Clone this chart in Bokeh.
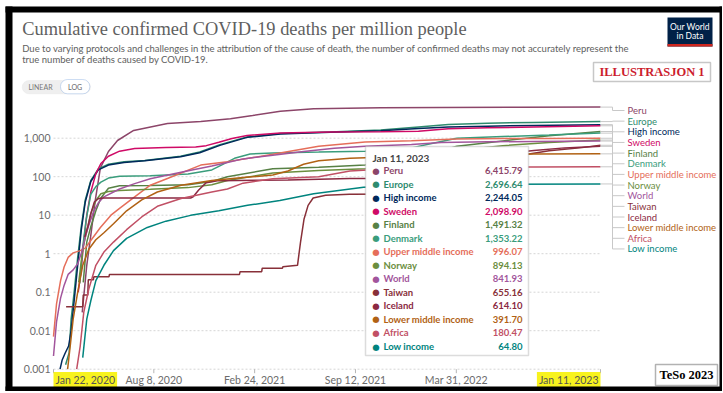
import math
import pandas as pd
from bokeh.plotting import figure
from bokeh.models import Range1d, Label, BoxAnnotation, Arrow, ColumnDataSource
from bokeh.embed import file_html
from bokeh.resources import INLINE

# ---------------- data ----------------
names = ["Peru", "Europe", "High income", "Sweden", "Finland", "Denmark",
         "Upper middle income", "Norway", "World", "Taiwan", "Iceland",
         "Lower middle income", "Africa", "Low income"]
colors = ["#8C4569", "#2E8B6E", "#00295B", "#CF0A66", "#578145", "#3A9D7C",
          "#E56E5A", "#6B8E3E", "#A2559C", "#883039", "#8B2942",
          "#B16214", "#C15065", "#00847E"]

x_tick_dates = ["2020-01-22", "2020-08-08", "2021-02-24", "2021-09-12", "2022-03-31", "2023-01-11"]
x_tick_labels = ["Jan 22, 2020", "Aug 8, 2020", "Feb 24, 2021", "Sep 12, 2021", "Mar 31, 2022", "Jan 11, 2023"]
y_ticks = [0.001, 0.01, 0.1, 1, 10, 100, 1000]
tooltip_date = "Jan 11, 2023"

peru_dates = ["2020-03-19", "2020-03-28", "2020-04-05", "2020-04-14", "2020-04-24", "2020-05-10",
              "2020-05-28", "2020-06-29", "2020-09-04", "2020-11-09", "2021-01-07", "2021-02-20",
              "2021-04-16", "2021-06-21", "2021-11-01", "2022-03-01", "2022-08-01", "2023-01-11"]
peru_values = [0.03, 0.5, 3, 25, 170, 450, 870, 1590, 2400, 2700, 3200, 3900, 5000, 5800,
               6170, 6300, 6370, 6415.79]

europe_dates = ["2020-02-15", "2020-02-22", "2020-02-26", "2020-03-03", "2020-03-10", "2020-03-17",
                "2020-03-25", "2020-04-05", "2020-04-20", "2020-05-10", "2020-06-10", "2020-07-21",
                "2020-09-30", "2020-11-07", "2020-12-17", "2021-02-09", "2021-04-16", "2021-07-24",
                "2021-11-01", "2022-01-15", "2022-03-15", "2022-06-01", "2022-09-01", "2023-01-11"]
europe_values = [0.0013, 0.0027, 0.02, 0.1, 0.8, 5, 25, 80, 160, 210, 245, 265, 340, 440, 680,
                 1080, 1320, 1450, 1620, 1950, 2250, 2450, 2570, 2696.64]

high_dates = ["2020-02-04", "2020-02-08", "2020-02-14", "2020-02-21", "2020-02-26", "2020-03-03",
              "2020-03-10", "2020-03-17", "2020-03-25", "2020-04-05", "2020-04-20", "2020-05-10",
              "2020-06-10", "2020-07-21", "2020-09-30", "2020-11-07", "2020-12-17", "2021-02-09",
              "2021-04-16", "2021-07-24", "2021-11-01", "2022-01-15", "2022-03-15", "2022-06-01",
              "2022-09-01", "2023-01-11"]
high_values = [0.001, 0.0017, 0.0026, 0.004, 0.01, 0.06, 0.5, 4, 22, 75, 150, 200, 235, 260,
               330, 420, 650, 1050, 1290, 1420, 1560, 1780, 1950, 2050, 2150, 2244.05]

sweden_dates = ["2020-03-11", "2020-03-16", "2020-03-22", "2020-03-28", "2020-04-05", "2020-04-15",
                "2020-04-25", "2020-05-10", "2020-06-01", "2020-07-01", "2020-09-01", "2020-10-30",
                "2020-11-20", "2020-12-15", "2021-01-10", "2021-02-09", "2021-04-16", "2021-07-24",
                "2021-11-01", "2022-01-15", "2022-03-15", "2022-06-01", "2022-09-01", "2023-01-11"]
sweden_values = [0.1, 0.3, 2, 10, 40, 120, 220, 340, 460, 540, 570, 590, 640, 780, 980, 1180,
                 1360, 1440, 1460, 1520, 1750, 1860, 1950, 2098.90]

finland_dates = ["2020-03-21", "2020-03-28", "2020-04-05", "2020-04-15", "2020-04-25", "2020-05-10",
                 "2020-06-01", "2020-08-01", "2020-10-15", "2020-12-01", "2021-01-01", "2021-04-01",
                 "2021-07-01", "2021-10-01", "2022-01-01", "2022-02-15", "2022-04-01", "2022-07-01",
                 "2022-10-01", "2023-01-11"]
finland_values = [0.18, 2, 5, 13, 28, 50, 58, 59, 62, 75, 100, 160, 175, 200, 300, 420, 620,
                  850, 1150, 1491.32]

denmark_dates = ["2020-03-14", "2020-03-20", "2020-03-27", "2020-04-05", "2020-04-15", "2020-04-25",
                 "2020-05-10", "2020-06-01", "2020-08-01", "2020-10-15", "2020-12-01", "2020-12-20",
                 "2021-01-15", "2021-02-15", "2021-04-01", "2021-07-01", "2021-10-01", "2022-01-01",
                 "2022-02-15", "2022-04-01", "2022-07-01", "2022-10-01", "2023-01-11"]
denmark_values = [0.17, 1.5, 8, 35, 55, 72, 92, 102, 106, 118, 150, 200, 300, 390, 415, 435,
                  460, 560, 750, 1000, 1100, 1210, 1353.22]

upper_dates = ["2020-01-22", "2020-01-28", "2020-02-05", "2020-02-12", "2020-02-20", "2020-03-01",
               "2020-03-15", "2020-03-25", "2020-04-05", "2020-04-24", "2020-05-15", "2020-06-01",
               "2020-07-01", "2020-08-01", "2020-09-04", "2020-11-09", "2021-01-01", "2021-04-01",
               "2021-07-01", "2021-10-01", "2022-01-01", "2022-04-01", "2022-07-01", "2022-10-01",
               "2023-01-11"]
upper_values = [0.007, 0.05, 0.2, 0.45, 0.8, 1.05, 1.2, 1.4, 2.2, 4.8, 10, 15, 30, 60, 90, 200,
                245, 380, 620, 800, 860, 950, 975, 985, 996.07]

norway_dates = ["2020-03-12", "2020-03-20", "2020-03-28", "2020-04-05", "2020-04-15", "2020-04-25",
                "2020-05-10", "2020-06-01", "2020-08-01", "2020-10-15", "2020-12-01", "2021-01-01",
                "2021-04-01", "2021-07-01", "2021-10-01", "2022-01-01", "2022-02-15", "2022-04-01",
                "2022-07-01", "2022-10-01", "2023-01-11"]
norway_values = [0.18, 1.3, 4, 11, 24, 36, 41, 44, 47, 52, 62, 80, 125, 145, 160, 240, 330,
                 480, 640, 770, 894.13]

world_dates = ["2020-01-22", "2020-01-28", "2020-02-05", "2020-02-12", "2020-02-20", "2020-03-01",
               "2020-03-10", "2020-03-18", "2020-03-25", "2020-04-01", "2020-04-10", "2020-04-20",
               "2020-05-01", "2020-06-01", "2020-07-01", "2020-08-01", "2020-10-01", "2020-12-01",
               "2021-01-01", "2021-02-01", "2021-04-01", "2021-06-01", "2021-08-01", "2021-10-01",
               "2022-01-01", "2022-03-01", "2022-06-01", "2022-09-01", "2023-01-11"]
world_values = [0.0022, 0.017, 0.07, 0.15, 0.29, 0.38, 0.55, 1.1, 2.7, 5.5, 12, 21, 30, 48, 66,
                88, 130, 190, 235, 290, 360, 450, 550, 615, 690, 770, 805, 825, 841.93]

taiwan_dates = ["2020-02-16", "2020-03-20", "2020-03-21", "2020-03-30", "2020-03-31", "2020-04-10",
                "2020-04-11", "2020-05-11", "2020-05-12", "2021-01-25", "2021-01-26", "2021-03-10",
                "2021-03-11", "2021-04-20", "2021-04-21", "2021-05-20", "2021-05-26", "2021-06-02",
                "2021-06-10", "2021-06-20", "2021-07-15", "2021-08-31", "2022-04-20", "2022-05-10",
                "2022-05-31", "2022-06-30", "2022-08-01", "2022-10-01", "2022-12-01", "2023-01-11"]
taiwan_values = [0.042, 0.042, 0.084, 0.084, 0.21, 0.21, 0.25, 0.25, 0.29, 0.29, 0.34, 0.34,
                 0.42, 0.42, 0.46, 0.5, 2, 8, 18, 28, 33, 35, 36, 45, 110, 250, 350, 470,
                 560, 655.16]

iceland_dates = ["2020-03-24", "2020-03-31", "2020-04-05", "2020-04-12", "2020-04-20", "2020-05-01",
                 "2020-10-20", "2020-10-25", "2020-11-05", "2020-11-20", "2020-12-15", "2021-05-01",
                 "2021-09-01", "2021-10-15", "2021-11-01", "2022-01-15", "2022-02-15", "2022-03-15",
                 "2022-05-01", "2022-07-01", "2022-09-01", "2022-11-01", "2023-01-11"]
iceland_values = [2.7, 5.5, 11, 22, 27, 28, 28, 30, 45, 70, 79, 82, 90, 90, 97, 105, 150, 250,
                  330, 390, 480, 560, 614.10]

lower_dates = ["2020-02-19", "2020-02-25", "2020-03-01", "2020-03-10", "2020-03-20", "2020-04-01",
               "2020-04-15", "2020-05-01", "2020-05-20", "2020-06-15", "2020-07-15", "2020-08-15",
               "2020-10-01", "2020-12-01", "2021-02-01", "2021-04-01", "2021-05-01", "2021-06-01",
               "2021-07-01", "2021-09-01", "2021-11-01", "2022-02-01", "2022-05-01", "2022-09-01",
               "2023-01-11"]
lower_values = [0.001, 0.005, 0.02, 0.1, 0.5, 1.3, 2.3, 3.5, 6, 13, 25, 40, 60, 80, 95, 110,
                140, 210, 260, 300, 320, 360, 380, 388, 391.70]

africa_dates = ["2020-03-08", "2020-03-15", "2020-03-22", "2020-04-01", "2020-04-15", "2020-05-01",
                "2020-05-20", "2020-06-15", "2020-07-15", "2020-08-15", "2020-10-01", "2020-12-01",
                "2021-01-01", "2021-02-01", "2021-04-01", "2021-07-01", "2021-09-01", "2021-11-01",
                "2022-02-01", "2022-05-01", "2022-09-01", "2023-01-11"]
africa_values = [0.001, 0.004, 0.03, 0.12, 0.5, 1.1, 2, 4.2, 9, 17, 27, 40, 48, 68, 88, 100,
                 140, 155, 168, 177, 179, 180.47]

lowinc_dates = ["2020-03-20", "2020-03-28", "2020-04-05", "2020-04-15", "2020-05-01", "2020-05-20",
                "2020-06-15", "2020-07-26", "2020-09-01", "2020-10-20", "2020-12-15", "2021-02-10",
                "2021-04-15", "2021-06-21", "2021-09-28", "2021-12-15", "2022-03-01", "2022-07-01",
                "2023-01-11"]
lowinc_values = [0.002, 0.02, 0.06, 0.2, 0.5, 1.2, 2.5, 4.8, 7, 9.9, 13, 18, 24, 36, 53, 58,
                 62, 64, 64.80]

series_dates = [peru_dates, europe_dates, high_dates, sweden_dates, finland_dates, denmark_dates,
                upper_dates, norway_dates, world_dates, taiwan_dates, iceland_dates,
                lower_dates, africa_dates, lowinc_dates]
series_values = [peru_values, europe_values, high_values, sweden_values, finland_values,
                 denmark_values, upper_values, norway_values, world_values, taiwan_values,
                 iceland_values, lower_values, africa_values, lowinc_values]

# ---------------- layout ----------------
W, H = 722, 391
CH_L, CH_R, CH_T, CH_B = 53, 600, 106.6, 368.7   # chart area inside the canvas (px)


def sy(yc):  # canvas y (from top) -> screen y (from bottom)
    return H - yc


def ms(d):
    return pd.Timestamp(d).value / 1e6


d0 = pd.Timestamp(x_tick_dates[0])
d1 = pd.Timestamp(x_tick_dates[-1])
ppd = (CH_R - CH_L) / (d1 - d0).days
x_lo = d0 - pd.Timedelta(days=CH_L / ppd)
x_hi = d1 + pd.Timedelta(days=(W - CH_R) / ppd)

y_max = max(v[-1] for v in series_values)
lg_lo, lg_hi = math.log10(y_ticks[0]), math.log10(y_max)
pxdec = (CH_B - CH_T) / (lg_hi - lg_lo)
yr_lo = 10 ** (lg_lo - (H - CH_B) / pxdec)
yr_hi = 10 ** (lg_hi + CH_T / pxdec)

p = figure(width=W, height=H, x_axis_type="datetime", y_axis_type="log",
           x_axis_location=None, y_axis_location=None, title=None,
           x_range=Range1d(x_lo, x_hi), y_range=Range1d(yr_lo, yr_hi),
           output_backend="svg", toolbar_location=None, min_border=0)
p.background_fill_color = "white"
p.border_fill_color = "white"
p.outline_line_color = None
p.grid.visible = False

# horizontal grid lines (dotted) at the log ticks
n = len(y_ticks)
p.segment(x0=[d0] * n, y0=y_ticks, x1=[d1] * n, y1=y_ticks,
          line_color="#d6d6d6", line_width=1, line_dash="2 2")
# little x tick marks
tick_low = 10 ** (lg_lo - 4 / pxdec)
m = len(x_tick_dates)
p.segment(x0=pd.to_datetime(x_tick_dates), y0=[y_ticks[0]] * m,
          x1=pd.to_datetime(x_tick_dates), y1=[tick_low] * m,
          line_color="#b5b5b5", line_width=1)

# series lines
for d, v, c in zip(series_dates, series_values, colors):
    p.line(x=pd.to_datetime(d), y=v, line_color=c, line_width=1.5)

# y tick labels
for t in y_ticks:
    p.add_layout(Label(x=50, y=t, x_units="screen", y_units="data", text=f"{t:,}",
                       text_font="Lato", text_font_size="10.5px", text_color="#6b6b6b",
                       text_align="right", text_baseline="middle"))

# x tick labels
for i, (d, t) in enumerate(zip(x_tick_dates, x_tick_labels)):
    first, last = i == 0, i == m - 1
    kw = dict(background_fill_color="#f8f31e", padding=2) if (first or last) else {}
    p.add_layout(Label(x=ms(d), y=sy(379.5), x_units="data", y_units="screen", text=t,
                       text_font="Lato", text_font_size="10.5px",
                       text_color="#555555" if (first or last) else "#6b6b6b",
                       text_baseline="middle",
                       text_align="left" if first else ("right" if last else "center"), **kw))

# ---------------- end labels with connectors ----------------
corner_x, label_x = 612, 627
x_corner = d1 + pd.Timedelta(days=(corner_x - CH_R) / ppd)
label_ys = [sy(110 + 10.65 * i) for i in range(len(names))]
end_vals = [v[-1] for v in series_values]
k = len(names)
srcA = ColumnDataSource(dict(x0=[d1] * k, y0=end_vals, x1=[x_corner] * k, y1=end_vals))
srcB = ColumnDataSource(dict(x0=[x_corner] * k, y0=end_vals, x1=[corner_x] * k, y1=label_ys))
srcC = ColumnDataSource(dict(x0=[corner_x] * k, y0=label_ys, x1=[label_x - 3] * k, y1=label_ys))
for src, su, eu in [(srcA, "data", "data"), (srcB, "data", "screen"), (srcC, "screen", "screen")]:
    p.add_layout(Arrow(end=None, x_start="x0", y_start="y0", x_end="x1", y_end="y1",
                       start_units=su, end_units=eu, line_color="#c8c8c8", line_width=1,
                       source=src))
for name, c, ly in zip(names, colors, label_ys):
    p.add_layout(Label(x=label_x, y=ly, x_units="screen", y_units="screen", text=name,
                       text_font="Lato", text_font_size="9.5px", text_color=c,
                       text_baseline="middle", text_align="left"))

SCR = dict(left_units="screen", right_units="screen", bottom_units="screen", top_units="screen")


def box(l, r, t, b, **kw):
    p.add_layout(BoxAnnotation(left=l, right=r, top=sy(t), bottom=sy(b), **SCR, **kw))


def label(x, yc, text, **kw):
    p.add_layout(Label(x=x, y=sy(yc), x_units="screen", y_units="screen", text=text, **kw))


# ---------------- tooltip ----------------
box(365, 528, 146, 355, fill_color="white", fill_alpha=1, line_color="#8c8c8c", line_width=1.5)
label(372, 157, tooltip_date, text_font="Lato", text_font_size="10px", text_font_style="bold",
      text_color="#444444", text_baseline="middle")
for i, (name, c, v) in enumerate(zip(names, colors, end_vals)):
    yc = 170 + 13.54 * i
    label(375.5, yc, "●", text_font="DejaVu Sans", text_font_size="8.5px", text_color=c,
          text_baseline="middle", text_align="center")
    label(383, yc, name, text_font="Lato", text_font_size="9.5px", text_font_style="bold",
          text_color=c, text_baseline="middle", text_align="left")
    label(522, yc, f"{v:,.2f}", text_font="Lato", text_font_size="9.5px",
          text_font_style="bold", text_color=c, text_baseline="middle", text_align="right")

# ---------------- header ----------------
label(21.7, 28.5, "Cumulative confirmed COVID-19 deaths per million people",
      text_font="Liberation Serif", text_font_size="18.4px", text_color="#5f5f5f",
      text_baseline="alphabetic")
label(21.7, 47.5, "Due to varying protocols and challenges in the attribution of the cause of "
      "death, the number of confirmed deaths may not accurately represent the",
      text_font="Lato", text_font_size="9.5px", text_color="#5e5e5e", text_baseline="alphabetic")
label(21.7, 59, "true number of deaths caused by COVID-19.",
      text_font="Lato", text_font_size="9.5px", text_color="#5e5e5e", text_baseline="alphabetic")

# LINEAR / LOG toggle
box(21.7, 90, 80, 93.3, fill_color="#efefef", fill_alpha=1, line_color="#e2e2e2",
    border_radius=7)
box(60, 89.3, 79, 93.3, fill_color="white", fill_alpha=1, line_color="#5b8fd6",
    border_radius=7)
label(40, 86.7, "LINEAR", text_font="Lato", text_font_size="7px", text_color="#777777",
      text_baseline="middle", text_align="center")
label(74.6, 86.7, "LOG", text_font="Lato", text_font_size="7px", text_color="#666666",
      text_baseline="middle", text_align="center")

# OWID logo
box(667, 712, 17, 46, fill_color="#002147", fill_alpha=1, line_color=None)
box(667, 712, 43.5, 46, fill_color="#ce261e", fill_alpha=1, line_color=None)
label(689.5, 26.5, "Our World", text_font="Lato", text_font_size="8.5px", text_color="white",
      text_baseline="middle", text_align="center")
label(689.5, 35.5, "in Data", text_font="Lato", text_font_size="8.5px", text_color="white",
      text_baseline="middle", text_align="center")

# ILLUSTRASJON 1
box(593, 710, 62, 81, fill_color="white", fill_alpha=1, line_color="#444444", line_width=1.5)
label(651.5, 71.5, "ILLUSTRASJON 1", text_font="Liberation Serif", text_font_size="12.5px",
      text_font_style="bold", text_color="#cc1d2e", text_baseline="middle", text_align="center")

# TeSo 2023
box(655, 717, 364, 385, fill_color="white", fill_alpha=1, line_color="black", line_width=1.5)
label(686, 374.5, "TeSo 2023", text_font="Liberation Serif", text_font_size="12.5px",
      text_font_style="bold", text_color="black", text_baseline="middle", text_align="center")

# black frame of the screenshot
for l, r, t, b in [(5, 12, 6, H), (719, W, 6, H), (5, W, 6, 12), (5, W, 386, H)]:
    box(l, r, t, b, fill_color="black", fill_alpha=1, line_color=None)

open("out.html", "w").write(file_html(p, INLINE))
